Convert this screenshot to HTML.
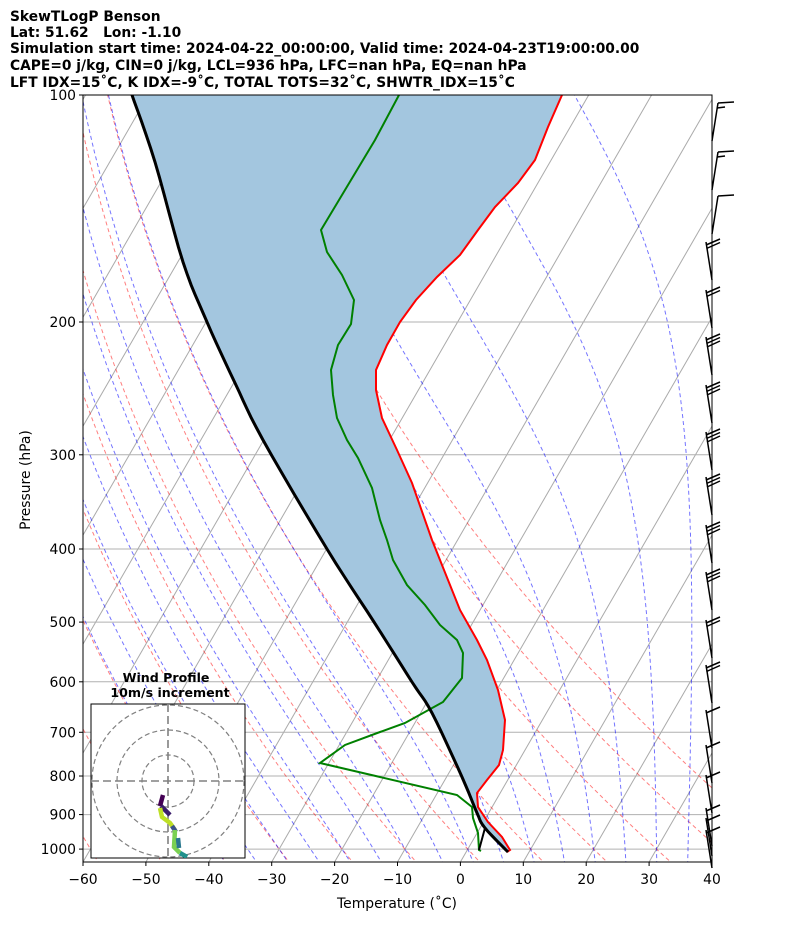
<!DOCTYPE html>
<html><head><meta charset="utf-8"><style>
body{margin:0;background:#fff}
svg text{font-family:"DejaVu Sans","Liberation Sans",sans-serif;white-space:pre}
</style></head><body>
<svg id="s" width="794" height="937" xmlns="http://www.w3.org/2000/svg">
<defs><clipPath id="c"><rect x="83" y="95" width="629" height="767"/></clipPath>
<clipPath id="h"><rect x="91" y="704" width="154" height="154"/></clipPath></defs>
<g font-weight="bold" font-size="13.8" fill="#000">
<text x="10" y="21">SkewTLogP Benson</text>
<text x="10" y="37" xml:space="preserve">Lat: 51.62   Lon: -1.10</text>
<text x="10" y="53">Simulation start time: 2024-04-22_00:00:00, Valid time: 2024-04-23T19:00:00.00</text>
<text x="10" y="70">CAPE=0 j/kg, CIN=0 j/kg, LCL=936 hPa, LFC=nan hPa, EQ=nan hPa</text>
<text x="10" y="87">LFT IDX=15˚C, K IDX=-9˚C, TOTAL TOTS=32˚C, SHWTR_IDX=15˚C</text>
</g>
<g id="bg" clip-path="url(#c)"></g>
<g id="fg"></g>
</svg>
<script>
var NS="http://www.w3.org/2000/svg";
function el(p,t,a,txt){var e=document.createElementNS(NS,t);for(var k in a)e.setAttribute(k,a[k]);if(txt!=null)e.textContent=txt;p.appendChild(e);return e;}
var s=document.getElementById('s'),bg=document.getElementById('bg'),fg=document.getElementById('fg');
var K=327.5,T30=Math.tan(Math.PI/6);
function Y(p){return 95+K*Math.log(p/100);}
function X(T,p){var y=Y(p);return 83+(T+60)*6.29+(862-y)*T30;}
function pstr(pts){return pts.map(function(q){return q[0].toFixed(1)+','+q[1].toFixed(1)}).join(' ');}
function pl(pts,a,par){el(par||bg,'polyline',Object.assign({points:pstr(pts),fill:'none'},a));}
function smooth(P,n){var out=[];for(var i=0;i<P.length-1;i++){var p0=P[Math.max(i-1,0)],p1=P[i],p2=P[i+1],p3=P[Math.min(i+2,P.length-1)];
for(var j=0;j<n;j++){var t=j/n,t2=t*t,t3=t2*t;out.push([0,1].map(function(k){return 0.5*((2*p1[k])+(-p0[k]+p2[k])*t+(2*p0[k]-5*p1[k]+4*p2[k]-p3[k])*t2+(-p0[k]+3*p1[k]-3*p2[k]+p3[k])*t3);}));}}
out.push(P[P.length-1]);return out;}
for(var T=-160;T<=40;T+=10){pl([[X(T,1050),Y(1050)],[X(T,100),Y(100)]],{stroke:'#aaa','stroke-width':1});}
[100,200,300,400,500,600,700,800,900,1000].forEach(function(p){pl([[83,Y(p)],[712,Y(p)]],{stroke:'#b0b0b0','stroke-width':1});});
for(var th=-80;th<=50;th+=10){var pts=[];for(var p=1050;p>=100;p-=10){var Tk=(th+273.15)*Math.pow(p/1000,0.2857);pts.push([X(Tk-273.15,p),Y(p)]);}pl(pts,{stroke:'#ff0000','stroke-opacity':0.5,'stroke-dasharray':'4,3','stroke-width':1});}
function es(Tc){return 6.112*Math.exp(17.67*Tc/(Tc+243.5));}
function dTdp(Tk,p){var Rd=287.04,Cp=1005.7,Lv=2.501e6,eps=0.622;var e=es(Tk-273.15),rs=eps*e/(p-e);return (Rd*Tk+Lv*rs)/(p*(Cp+Lv*Lv*rs*eps/(Rd*Tk*Tk)));}
function moist(Tk,p0,p1){var pts=[];for(var p=p0;p>=p1;p-=1){pts.push([X(Tk-273.15,p),Y(p)]);var k1=dTdp(Tk,p),k2=dTdp(Tk-k1*0.5,p-0.5);Tk-=k2;}return pts;}
for(var t0=-40;t0<=35;t0+=5){var Tk2=t0+273.15,up=[];for(var q=1000;q<=1050;q+=2){up.unshift([X(Tk2-273.15,q),Y(q)]);Tk2+=dTdp(Tk2,q)*2;}
pl(up.concat(moist(t0+273.15,1000,100)),{stroke:'#0000ff','stroke-opacity':0.55,'stroke-dasharray':'4,3','stroke-width':1});}
var blk=smooth([[132,95],[155,162],[183,262],[207,322],[235,383],[263,440],[327,549],[374,622],[412,682],[432,713],[462,777],[477,813],[485,828],[508,852]],6);
var red=[[562,95],[548,127],[535,160],[518,183],[495,207],[478,230],[460,255],[437,277],[416,300],[400,322],[387,345],[376,370],[376,390],[382,418],[397,450],[412,483],[432,540],[460,610],[477,640],[487,660],[498,690],[505,720],[503,750],[499,765],[487,780],[477,793],[478,807],[488,822],[502,837],[510,850],[507,852]];
var sh=red.concat(blk.slice().reverse());
el(bg,'polygon',{points:pstr(sh),fill:'#a3c6df',stroke:'none'});
var grn=[[399,95],[375,140],[348,185],[321,230],[327,252],[342,275],[354,300],[351,324],[338,345],[331,370],[333,395],[337,418],[347,440],[358,458],[372,488],[380,520],[387,540],[393,560],[407,585],[425,605],[440,625],[457,640],[463,653],[462,678],[443,702],[405,723],[380,732],[345,745],[320,763],[380,777],[457,795],[472,807],[473,818],[478,833],[479,850],[481,851]];
pl(grn,{stroke:'#008000','stroke-width':2});
pl(red,{stroke:'#ff0000','stroke-width':2});
pl([[485,828],[479,850]],{stroke:'#000','stroke-width':2});
pl(blk,{stroke:'#000','stroke-width':3});
el(fg,'rect',{x:83,y:95,width:629,height:767,fill:'none',stroke:'#000','stroke-width':1});
[100,200,300,400,500,600,700,800,900,1000].forEach(function(p){var y=Y(p);el(fg,'line',{x1:79,x2:83,y1:y,y2:y,stroke:'#000'});el(fg,'text',{x:76,y:y+5,'font-size':13.9,'text-anchor':'end'},p);});
for(var t=-60;t<=40;t+=10){var x=83+(t+60)*6.29;el(fg,'line',{x1:x,x2:x,y1:862,y2:866,stroke:'#000'});el(fg,'text',{x:x,y:884,'font-size':13.9,'text-anchor':'middle'},(t<0?'\u2212'+(-t):t));}
el(fg,'text',{x:397,y:908,'font-size':13.9,'text-anchor':'middle'},'Temperature (˚C)');
el(fg,'text',{x:30,y:480,'font-size':13.9,'text-anchor':'middle',transform:'rotate(-90 30 480)'},'Pressure (hPa)');
var bs=[[103,1,2],[152,1,2],[196,1,1],[242,2,0],[290,2,0],[337,3,0],[385,3,0],[432,3,0],[477,3,0],[525,3,0],[572,3,0],[620,2,0],[665,2,0],[710,1,0],[745,1,0],[775,1,0],[808,1,0],[818,1,0],[830,1,0]];
bs.forEach(function(b){var yt=b[0],yb=yt+38;var xt=(b[2]?718:706);el(fg,'line',{x1:712,y1:yb,x2:xt,y2:yt,stroke:'#000','stroke-width':1.5});
if(b[2]){el(fg,'line',{x1:xt,y1:yt,x2:xt+16,y2:yt-1,stroke:'#000','stroke-width':1.5});if(b[2]>1)el(fg,'line',{x1:xt-1,y1:yt+5,x2:xt+7,y2:yt+4,stroke:'#000','stroke-width':1.5});}
else for(var k=0;k<b[1];k++){var yy=yt+k*3.5;el(fg,'line',{x1:xt+k*0.5,y1:yy+3,x2:xt+14,y2:yy-3,stroke:'#000','stroke-width':1.5});}});
el(fg,'text',{x:166,y:682,'font-size':12.6,'font-weight':'bold','text-anchor':'middle'},'Wind Profile');
el(fg,'text',{x:170,y:697,'font-size':12.6,'font-weight':'bold','text-anchor':'middle'},'10m/s increment');
el(fg,'rect',{x:91,y:704,width:154,height:154,fill:'#fff',stroke:'#000','stroke-width':1});
var hg=el(fg,'g',{'clip-path':'url(#h)'});
[26,51,76].forEach(function(r){el(hg,'circle',{cx:168,cy:781,r:r,fill:'none',stroke:'#808080','stroke-dasharray':'5,3','stroke-width':1.2});});
el(hg,'line',{x1:168,y1:704,x2:168,y2:858,stroke:'#808080','stroke-width':1.6,'stroke-dasharray':'8,4'});
el(hg,'line',{x1:91,y1:781,x2:245,y2:781,stroke:'#808080','stroke-width':1.6,'stroke-dasharray':'8,4'});
function seg(a,c){pl(a,{stroke:c,'stroke-width':4.5},hg);}
seg([[163,795],[160,806]],'#440154');seg([[161,806],[170,815]],'#3b1c6b');
seg([[160,808],[162,817],[170,823],[175,830]],'#bddf26');seg([[172,826],[176,832]],'#3b528b');
seg([[175,830],[174,847],[180,853]],'#7ad151');seg([[178,838],[179,848]],'#2a788e');seg([[180,853],[187,857]],'#21918c');
</script>
</body></html>
